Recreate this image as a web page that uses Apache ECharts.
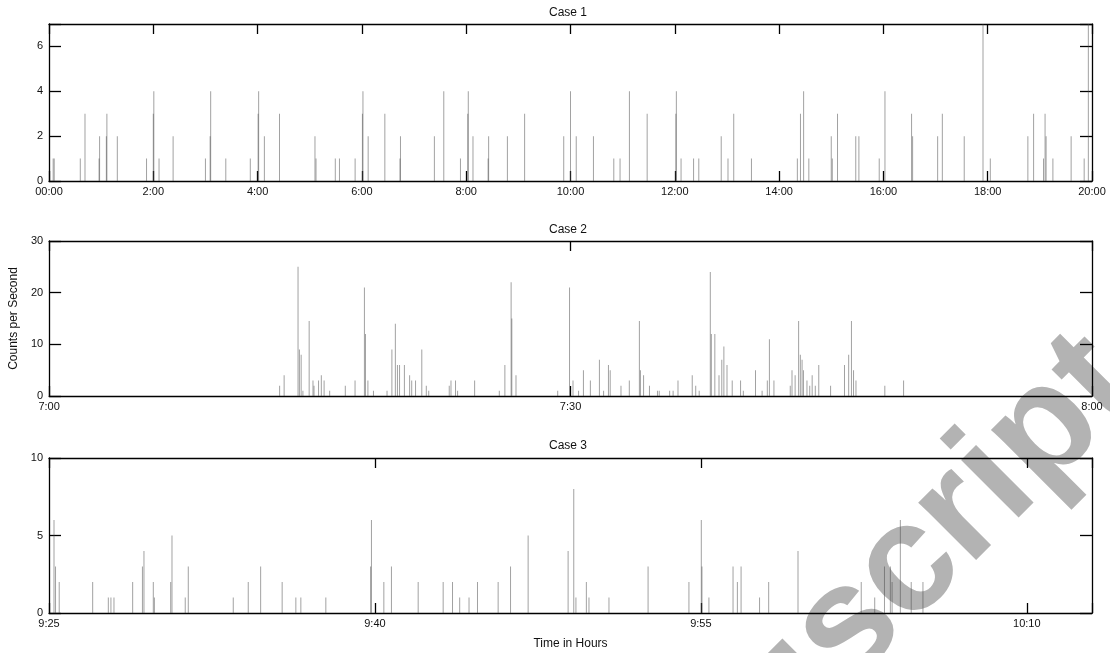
<!DOCTYPE html>
<html>
<head>
<meta charset="utf-8">
<script src="https://cdn.jsdelivr.net/npm/echarts@6/dist/echarts.min.js"></script>
<style>
html, body { margin: 0; padding: 0; background: #fff; }
#main { width: 1110px; height: 653px; }
</style>
</head>
<body>
<div id="main"></div>
<script>
// tick labels of the three time axes
var case1Ticks = ['00:00', '2:00', '4:00', '6:00', '8:00', '10:00', '12:00', '14:00', '16:00', '18:00', '20:00'];
var case2Ticks = ['7:00', '7:30', '8:00'];
var case3Ticks = ['9:25', '9:40', '9:55', '10:10'];

// [time, counts per second]  case 1: hours after 00:00
var case1Data = [
    [0.08, 1], [0.1, 1], [0.6, 1], [0.69, 3], [0.96, 1], [0.97, 2], [1.1, 2], [1.11, 3], [1.31, 2], [1.87, 1],
    [2.0, 3], [2.01, 4], [2.11, 1], [2.38, 2], [3.0, 1], [3.09, 2], [3.1, 4], [3.39, 1], [3.86, 1], [4.01, 3],
    [4.02, 4], [4.13, 2], [4.42, 3], [5.1, 2], [5.12, 1], [5.49, 1], [5.57, 1], [5.87, 1], [6.01, 3], [6.02, 4],
    [6.12, 2], [6.44, 3], [6.73, 1], [6.74, 2], [7.39, 2], [7.57, 4], [7.89, 1], [8.03, 3], [8.04, 4], [8.13, 2],
    [8.42, 1], [8.43, 2], [8.79, 2], [9.12, 3], [9.87, 2], [10.0, 4], [10.11, 2], [10.44, 2], [10.83, 1], [10.95, 1],
    [11.13, 4], [11.47, 3], [12.02, 3], [12.03, 4], [12.12, 1], [12.36, 1], [12.46, 1], [12.89, 2], [13.02, 1], [13.13, 3],
    [13.47, 1], [14.35, 1], [14.41, 3], [14.47, 4], [14.57, 1], [15.0, 2], [15.02, 1], [15.12, 3], [15.47, 2], [15.53, 2],
    [15.92, 1], [16.03, 4], [16.54, 3], [16.56, 2], [17.04, 2], [17.13, 3], [17.55, 2], [17.91, 7], [18.05, 1], [18.77, 2],
    [18.88, 3], [19.07, 1], [19.1, 3], [19.12, 2], [19.25, 1], [19.6, 2], [19.85, 1], [19.93, 7]
];
// case 2: minutes after 7:00
var case2Data = [
    [13.26, 2], [13.52, 4], [14.32, 25], [14.4, 9], [14.5, 8], [14.6, 1], [14.96, 14.5], [15.18, 3], [15.24, 2], [15.5, 3],
    [15.66, 4], [15.82, 3], [16.14, 1], [17.04, 2], [17.6, 3], [18.14, 21], [18.2, 12], [18.34, 3], [18.66, 1], [19.44, 1],
    [19.72, 9], [19.92, 14], [20.04, 6], [20.16, 6], [20.44, 6], [20.74, 4], [20.86, 3], [21.08, 3], [21.44, 9], [21.7, 2],
    [21.84, 1], [23.02, 2], [23.12, 3], [23.38, 3], [23.5, 1], [24.48, 3], [25.9, 1], [26.22, 6], [26.58, 22], [26.62, 15],
    [26.86, 4], [29.26, 1], [29.94, 21], [30.14, 3], [30.46, 1], [30.74, 5], [31.14, 3], [31.66, 7], [31.9, 1], [32.18, 6],
    [32.28, 5], [32.9, 2], [33.38, 3], [33.96, 14.5], [34.02, 5], [34.2, 4], [34.54, 2], [35.0, 1], [35.1, 1], [35.7, 1],
    [35.9, 1], [36.18, 3], [37.0, 4], [37.2, 2], [37.4, 1], [38.04, 24], [38.1, 12], [38.3, 12], [38.54, 4], [38.7, 7],
    [38.82, 9.6], [39.0, 6], [39.3, 3], [39.78, 3], [39.94, 1], [40.64, 5], [41.02, 1], [41.32, 3], [41.44, 11], [41.7, 3],
    [42.64, 2], [42.74, 5], [42.92, 4], [43.12, 14.5], [43.22, 8], [43.32, 7], [43.4, 5], [43.6, 3], [43.76, 2], [43.9, 4],
    [44.08, 2], [44.28, 6], [44.96, 2], [45.76, 6], [46.0, 8], [46.16, 14.5], [46.28, 5], [46.42, 3], [48.08, 2], [49.16, 3]
];
// case 3: minutes after 9:25
var case3Data = [
    [0.23, 6], [0.3, 3], [0.47, 2], [2.01, 2], [2.73, 1], [2.85, 1], [2.99, 1], [3.85, 2], [4.3, 3], [4.37, 4],
    [4.8, 2], [4.85, 1], [5.6, 2], [5.66, 5], [6.27, 1], [6.41, 3], [8.48, 1], [9.17, 2], [9.74, 3], [10.73, 2],
    [11.36, 1], [11.59, 1], [12.74, 1], [14.8, 3], [14.84, 6], [15.41, 2], [15.76, 3], [16.99, 2], [18.14, 2], [18.57, 2],
    [18.9, 1], [19.33, 1], [19.72, 2], [20.67, 2], [21.24, 3], [22.05, 5], [23.89, 4], [24.15, 8], [24.25, 1], [24.73, 2],
    [24.85, 1], [25.77, 1], [27.57, 3], [29.45, 2], [30.02, 6], [30.05, 3], [30.37, 1], [31.48, 3], [31.68, 2], [31.85, 3],
    [32.7, 1], [33.12, 2], [34.47, 4], [37.38, 2], [38.0, 1], [38.45, 3], [38.72, 3], [38.8, 2], [39.18, 6], [39.68, 2],
    [40.22, 2]
];

var chart = echarts.init(document.getElementById('main'));
var FONT = '"Liberation Sans", Arial, sans-serif';
var black = '#000';

// label only the multiples of the interval (ECharts also puts a tick on max)
function onStep(v, step) {
    var k = Math.round(v / step);
    return Math.abs(v - k * step) < 1e-6 ? k : -1;
}

function xAxes(grid, max, step, labels, name) {
    var bottom = {
        type: 'value', gridIndex: grid, position: 'bottom', min: 0, max: max, interval: step,
        axisLine: { show: true, onZero: false, lineStyle: { color: black, width: 1.3 } },
        axisTick: { show: true, inside: true, length: 10, lineStyle: { color: black, width: 1.3 } },
        axisLabel: {
            color: '#111', fontSize: 11, fontFamily: FONT, margin: 5,
            formatter: function (v) { var k = onStep(v, step); return k < 0 ? '' : (labels[k] || ''); }
        },
        splitLine: { show: false }
    };
    if (name) {
        bottom.name = name;
        bottom.nameLocation = 'middle';
        bottom.nameGap = 25;
        bottom.nameTextStyle = { color: '#111', fontSize: 12, fontFamily: FONT };
    }
    var top = {
        type: 'value', gridIndex: grid, position: 'top', min: 0, max: max, interval: step,
        axisLine: { show: true, onZero: false, lineStyle: { color: black, width: 1.3 } },
        axisTick: { show: true, inside: true, length: 10, lineStyle: { color: black, width: 1.3 } },
        axisLabel: { show: false },
        splitLine: { show: false }
    };
    return [bottom, top];
}

function yAxes(grid, max, step, name) {
    var left = {
        type: 'value', gridIndex: grid, position: 'left', min: 0, max: max, interval: step,
        axisLine: { show: true, onZero: false, lineStyle: { color: black, width: 1.3 } },
        axisTick: { show: true, inside: true, length: 12, lineStyle: { color: black, width: 1.3 } },
        axisLabel: {
            color: '#111', fontSize: 11, fontFamily: FONT, margin: 6,
            formatter: function (v) { return onStep(v, step) < 0 ? '' : String(v); }
        },
        splitLine: { show: false }
    };
    if (name) {
        left.name = name;
        left.nameLocation = 'middle';
        left.nameGap = 22;
        left.nameRotate = 90;
        left.nameTextStyle = { color: '#111', fontSize: 12, fontFamily: FONT };
    }
    var right = {
        type: 'value', gridIndex: grid, position: 'right', min: 0, max: max, interval: step,
        axisLine: { show: true, onZero: false, lineStyle: { color: black, width: 1.3 } },
        axisTick: { show: true, inside: true, length: 12, lineStyle: { color: black, width: 1.3 } },
        axisLabel: { show: false },
        splitLine: { show: false }
    };
    return [left, right];
}

function spikes(grid, data) {
    return {
        type: 'bar',
        xAxisIndex: grid * 2,
        yAxisIndex: grid * 2,
        data: data,
        barWidth: 1,
        silent: true,
        itemStyle: { color: 'rgba(70,70,70,0.5)' }
    };
}

function caseTitle(text, top) {
    return {
        text: text, left: 568, top: top, textAlign: 'center', padding: 0,
        textStyle: { color: '#111', fontSize: 12, fontWeight: 'normal', fontFamily: FONT }
    };
}

option = {
    backgroundColor: '#fff',
    animation: false,
    title: [caseTitle('Case 1', 7), caseTitle('Case 2', 224), caseTitle('Case 3', 440)],
    grid: [
        { left: 49, right: 18, top: 24, height: 157 },
        { left: 49, right: 18, top: 241, height: 155 },
        { left: 49, right: 18, top: 458, height: 155 }
    ],
    xAxis: [].concat(
        xAxes(0, 20, 2, case1Ticks),
        xAxes(1, 60, 30, case2Ticks),
        xAxes(2, 48, 15, case3Ticks, 'Time in Hours')
    ),
    yAxis: [].concat(
        yAxes(0, 7, 2),
        yAxes(1, 30, 10, 'Counts per Second'),
        yAxes(2, 10, 5)
    ),
    series: [spikes(0, case1Data), spikes(1, case2Data), spikes(2, case3Data)],
    // watermark lying under the lower right corner of the plots
    graphic: [{
        type: 'text', x: 1114, y: 362, rotation: Math.PI / 4, z: -10, silent: true,
        style: {
            text: 'Manuscript', font: 'bold 154px "Liberation Sans", Arial, sans-serif',
            fill: '#b3b3b3', textAlign: 'right', textVerticalAlign: 'middle', align: 'right', verticalAlign: 'middle'
        }
    }]
};

chart.setOption(option);
</script>
</body>
</html>
